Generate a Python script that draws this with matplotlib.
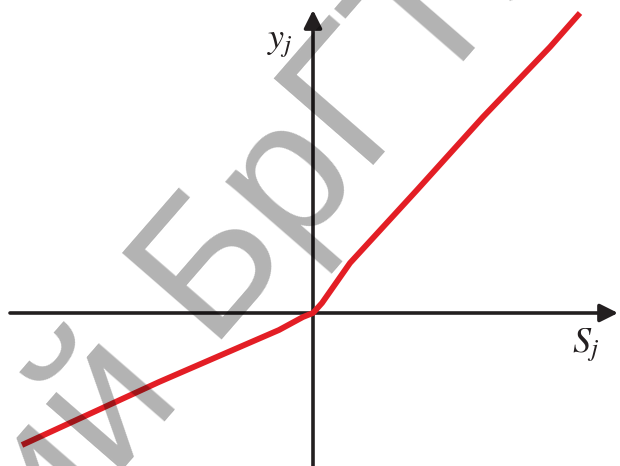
import numpy as np
import matplotlib
matplotlib.use("Agg")
import matplotlib.pyplot as plt
from matplotlib import transforms

# Piecewise activation curve y_j(S_j)
s_vals = [-2.91, -1.54, -0.34, -0.10, 0.00, 0.09, 0.37, 1.04, 1.70, 2.37, 2.67]
y_vals = [-1.32, -0.69, -0.17, -0.04, 0.00, 0.10, 0.50, 1.23, 1.96, 2.66, 3.00]

x_label = r"$S_j$"
y_label = r"$y_j$"
stamp_head = "Репозиторий"
stamp_tail = "БрГТУ"

plt.rcParams["mathtext.fontset"] = "stix"

fig = plt.figure(figsize=(6.2, 4.66), dpi=100)
ax = fig.add_axes([0, 0, 1, 1])
ax.set_xlim(-3.13, 3.07)
ax.set_ylim(-1.53, 3.13)
ax.axis("off")

axis_color = "#231f20"
arrow = dict(arrowstyle="-|>,head_length=0.4,head_width=0.2", lw=2.6,
             color=axis_color, mutation_scale=27, shrinkA=0, shrinkB=0)
ax.annotate("", xy=(3.05, 0), xytext=(-3.03, 0), arrowprops=arrow, zorder=2)
ax.annotate("", xy=(0, 3.03), xytext=(0, -1.53), arrowprops=arrow, zorder=2)

ax.plot(s_vals, y_vals, color="#e31e25", lw=4.2, solid_capstyle="butt",
        solid_joinstyle="round", zorder=3)

ax.text(-0.33, 2.70, y_label, fontsize=26, ha="center", va="center", color=axis_color)
ax.text(2.73, -0.32, x_label, fontsize=26, ha="center", va="center", color=axis_color)

# Diagonal stamp laid over the drawing
angle = 49
fs = 138
anchor = (-1.072, -0.270)
stamp = dict(fontsize=fs, family="Liberation Sans", color="k", alpha=0.3,
             rotation=angle, rotation_mode="anchor", va="baseline", zorder=5)
ax.text(*anchor, stamp_tail, ha="left", **stamp)

rad = np.radians(angle)
gap = 0.278 * fs   # word space, points
drop = 7.5         # the first word sits slightly lower, points
back = transforms.offset_copy(
    ax.transData, fig=fig,
    x=-gap * np.cos(rad) + drop * np.sin(rad),
    y=-gap * np.sin(rad) - drop * np.cos(rad), units="points")
ax.text(*anchor, stamp_head, ha="right", transform=back, **stamp)

fig.savefig("out.png", dpi=100)
